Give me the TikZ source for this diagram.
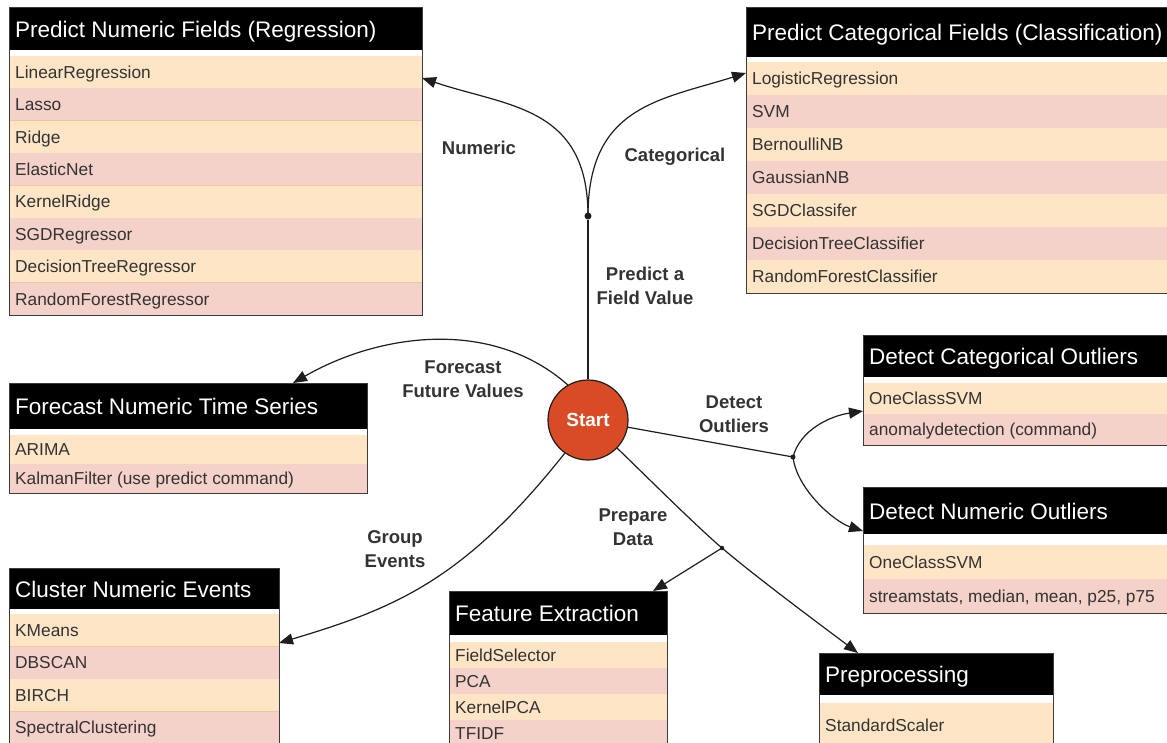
\documentclass[tikz,border=0pt]{standalone}
\usepackage{fontspec}
\setmainfont{Liberation Sans}
\usetikzlibrary{arrows.meta}
\definecolor{rowA}{HTML}{FDE5C6}
\definecolor{rowB}{HTML}{F4D1C9}
\definecolor{sepc}{HTML}{F2C4A2}
\definecolor{framec}{HTML}{3C3C3C}
\definecolor{txtc}{HTML}{333333}
\definecolor{startc}{HTML}{D84B25}
\definecolor{linec}{HTML}{1E1E1E}
\tikzset{
  hdrtxt/.style={text=white, inner sep=0pt, font=\fontsize{22.5}{26}\selectfont},
  rowtxt/.style={text=txtc, inner sep=0pt, font=\fontsize{17.3}{20}\selectfont},
  lbl/.style={text=txtc, align=center, inner sep=0pt, font=\bfseries\fontsize{18.5}{24}\selectfont},
  boxframe/.style={draw=framec, line width=0.8pt, inner sep=0pt, outer sep=0pt, anchor=north west, rectangle},
  conn/.style={draw=linec, line width=1.2pt},
  arr/.style={conn, -{Triangle[length=14pt,width=11pt]}},
  jdot/.style={circle, fill=linec, inner sep=0pt, minimum size=#1},
}
% #1 name, #2 left, #3 top, #4 right, #5 bottom, #6 header bottom, #7 rows top, #8 title, #9 rows
\newcommand\mkbox[9]{%
  \fill[black] (#2,#3) rectangle (#4,#6);
  \node[hdrtxt, anchor=base west] at ({#2+6}, {(#3+#6)/2+8.5}) {#8};
  \foreach \rr [count=\cnt] in {#9} {\xdef\nrows{\cnt}}%
  \pgfmathsetmacro\rowh{(#5-#7)/\nrows}%
  \foreach \rr [count=\ii from 0] in {#9} {%
    \pgfmathsetmacro\ya{#7+\ii*\rowh}%
    \pgfmathsetmacro\yb{#7+(\ii+1)*\rowh}%
    \ifodd\ii\relax
      \fill[rowB] (#2,\ya) rectangle (#4,\yb);
    \else
      \fill[rowA] (#2,\ya) rectangle (#4,\yb);
    \fi
    \draw[sepc, line width=0.6pt] (#2,\yb) -- (#4,\yb);
    \node[rowtxt, anchor=base west] at ({#2+6}, {(\ya+\yb)/2+6.2}) {\rr};
  }%
  \node[boxframe, minimum width={(#4-#2)*1pt}, minimum height={(#5-#3)*1pt}] (#1) at (#2,#3) {};
}
\begin{document}
\begin{tikzpicture}[x=1pt, y=-1pt]
\useasboundingbox (0,0) rectangle (1167,742);
\fill[white] (0,0) rectangle (1167,742);

\mkbox{reg}{9}{7}{422}{315}{50}{56}{Predict Numeric Fields (Regression)}{LinearRegression,Lasso,Ridge,ElasticNet,KernelRidge,SGDRegressor,DecisionTreeRegressor,RandomForestRegressor}
\mkbox{cls}{746}{7}{1180}{293}{57}{62}{Predict Categorical Fields (Classification)}{LogisticRegression,SVM,BernoulliNB,GaussianNB,SGDClassifer,DecisionTreeClassifier,RandomForestClassifier}
\mkbox{fore}{9}{383}{367}{493}{429}{435}{Forecast Numeric Time Series}{ARIMA,KalmanFilter (use predict command)}
\mkbox{clu}{9}{568}{279}{744}{609}{614}{Cluster Numeric Events}{KMeans,DBSCAN,BIRCH,SpectralClustering}
\mkbox{fea}{449}{591}{667}{746}{635}{642}{Feature Extraction}{FieldSelector,PCA,KernelPCA,TFIDF}
\mkbox{pre}{819}{653}{1053}{747}{695}{703}{Preprocessing}{StandardScaler}
\mkbox{cato}{863}{335}{1180}{445}{377}{383}{Detect Categorical Outliers}{OneClassSVM,anomalydetection (command)}
\mkbox{numo}{863}{487}{1180}{613}{534}{545}{Detect Numeric Outliers}{OneClassSVM,{streamstats, median, mean, p25, p75}}

\node[circle, fill=startc, draw=linec, line width=1.2pt, minimum size=80pt, inner sep=0pt,
      text=white, font=\bfseries\fontsize{19}{22}\selectfont] (start) at (588,420) {Start};

\node[jdot=7pt] (fork) at (588,216) {};
\node[jdot=5pt] (ojun) at (793,457) {};
\node[jdot=4.5pt] (pjun) at (722,548) {};

\draw[conn] (start) -- (fork);
\draw[arr] (fork.center) .. controls (588,106) and (508,107) .. ([yshift=-71pt]reg.north east);
\draw[arr] (fork.center) .. controls (588,106) and (660,100) .. ([yshift=-66pt]cls.north west);
\draw[arr] (start.120) .. controls (492,318) and (380,333) .. ([xshift=-74pt]fore.north east);
\draw[arr] (start.235) .. controls (464,580) and (396,608) .. ([yshift=-75pt]clu.north east);
\draw[conn] (start) -- (ojun.center);
\draw[arr] (ojun.center) .. controls (800,430) and (830,416) .. ([yshift=-76pt]cato.north west);
\draw[arr] (ojun.center) .. controls (797,490) and (835,522) .. ([yshift=-44pt]numo.north west);
\draw[arr] (start.-44) .. controls (642,472) and (695,525) .. (pjun.center)
           .. controls (756,577) and (822,626) .. ([xshift=39pt]pre.north west);
\draw[arr] (pjun.center) -- ([xshift=-14pt]fea.north east);

\node[lbl] (lnum) at (479,148) {Numeric};
\node[lbl] (lcat) at (675,157) {Categorical};
\node[lbl] (lpred) at (645,286) {Predict a\\Field Value};
\node[lbl] (lfore) at (463,379) {Forecast\\Future Values};
\node[lbl] (ldet) at (734,414) {Detect\\Outliers};
\node[lbl] (lgrp) at (395,549) {Group\\Events};
\node[lbl] (lprep) at (633,527) {Prepare\\Data};
\end{tikzpicture}
\end{document}
